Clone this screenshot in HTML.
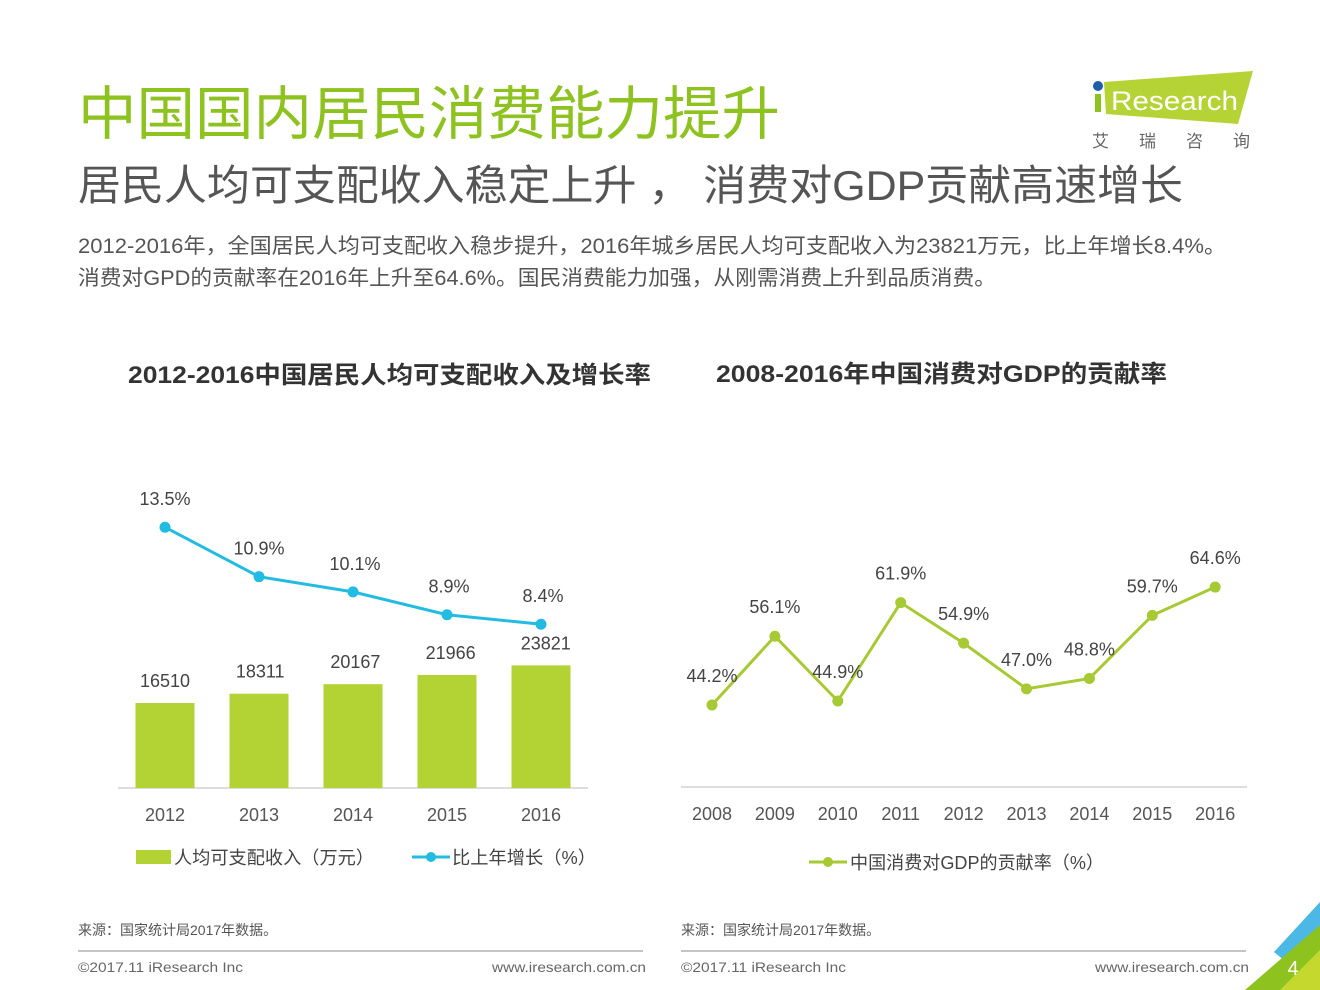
<!DOCTYPE html>
<html><head><meta charset="utf-8"><style>
body{margin:0;background:#fff;}
svg{display:block;font-family:"Liberation Sans","Noto Sans CJK SC",sans-serif;}
</style></head><body>
<svg id="s" width="1320" height="990" viewBox="0 0 1320 990">
<text x="78" y="134" font-size="58" fill="#8dc21f" textLength="702" lengthAdjust="spacingAndGlyphs">中国国内居民消费能力提升</text>
<text x="78" y="200" font-size="42" fill="#555" textLength="1105" lengthAdjust="spacingAndGlyphs">居民人均可支配收入稳定上升 ， 消费对GDP贡献高速增长</text>
<text x="78" y="253" font-size="21" fill="#555" textLength="1148" lengthAdjust="spacingAndGlyphs">2012-2016年，全国居民人均可支配收入稳步提升，2016年城乡居民人均可支配收入为23821万元，比上年增长8.4%。</text>
<text x="78" y="285" font-size="21" fill="#555" textLength="918" lengthAdjust="spacingAndGlyphs">消费对GPD的贡献率在2016年上升至64.6%。国民消费能力加强，从刚需消费上升到品质消费。</text>
<g>
<polygon points="1104,82 1253,71 1238,124 1106,114" fill="#b5d334"/>
<rect x="1095" y="94" width="6" height="18" fill="#8dc21f"/>
<circle cx="1098" cy="86" r="5" fill="#1f5fa8"/>
<text x="1111" y="110" font-size="27" fill="#fff" textLength="127" lengthAdjust="spacingAndGlyphs">Research</text>
<text x="1092" y="147" font-size="17" fill="#666" letter-spacing="30">艾瑞咨询</text>
</g>
<text x="128" y="383" font-size="24" font-weight="bold" fill="#333" textLength="523" lengthAdjust="spacingAndGlyphs">2012-2016中国居民人均可支配收入及增长率</text>
<text x="716" y="382" font-size="24" font-weight="bold" fill="#333" textLength="451" lengthAdjust="spacingAndGlyphs">2008-2016年中国消费对GDP的贡献率</text>
<line x1="118" y1="788" x2="588" y2="788" stroke="#bbb"/>
<line x1="681" y1="787" x2="1247" y2="787" stroke="#bbb"/>
<g id="left"></g><g id="right"></g>
<g>
<rect x="136" y="850" width="35" height="14" fill="#b3d334"/>
<text x="174" y="864" font-size="18" fill="#444" textLength="200" lengthAdjust="spacingAndGlyphs">人均可支配收入（万元）</text>
<line x1="412" y1="857" x2="450" y2="857" stroke="#22bce3" stroke-width="3"/><circle cx="431" cy="857" r="5" fill="#22bce3"/>
<text x="452" y="864" font-size="18" fill="#444" textLength="144" lengthAdjust="spacingAndGlyphs">比上年增长（%）</text>
</g>
<g>
<line x1="809" y1="862" x2="847" y2="862" stroke="#a7c933" stroke-width="3"/><circle cx="828" cy="862" r="5" fill="#a7c933"/>
<text x="850" y="869" font-size="18" fill="#444" textLength="254" lengthAdjust="spacingAndGlyphs">中国消费对GDP的贡献率（%）</text>
</g>
<text x="78" y="935" font-size="14" fill="#555">来源：国家统计局2017年数据。</text>
<text x="681" y="935" font-size="14" fill="#555">来源：国家统计局2017年数据。</text>
<line x1="78" y1="951" x2="643" y2="951" stroke="#888"/>
<line x1="681" y1="951" x2="1246" y2="951" stroke="#888"/>
<text x="78" y="972" font-size="14" fill="#666" textLength="165" lengthAdjust="spacingAndGlyphs">©2017.11 iResearch Inc</text>
<text x="492" y="972" font-size="14" fill="#666" textLength="154" lengthAdjust="spacingAndGlyphs">www.iresearch.com.cn</text>
<text x="681" y="972" font-size="14" fill="#666" textLength="165" lengthAdjust="spacingAndGlyphs">©2017.11 iResearch Inc</text>
<text x="1095" y="972" font-size="14" fill="#666" textLength="154" lengthAdjust="spacingAndGlyphs">www.iresearch.com.cn</text>
<g>
<polygon points="1320,902 1274,952 1320,990" fill="#4bb8e6"/>
<polygon points="1320,925 1245,990 1320,990" fill="#8dc21f"/>
<polygon points="1320,950 1280,990 1320,990" fill="#c4d82e"/>
<text x="1293" y="975" font-size="20" fill="#fff" text-anchor="middle">4</text>
</g>
</svg>
<script>
const years1=["2012","2013","2014","2015","2016"];
const income=[16510,18311,20167,21966,23821];
const growth=[13.5,10.9,10.1,8.9,8.4];
const years2=["2008","2009","2010","2011","2012","2013","2014","2015","2016"];
const contrib=[44.2,56.1,44.9,61.9,54.9,47.0,48.8,59.7,64.6];
const NS="http://www.w3.org/2000/svg";
function mk(p,t,a,txt){const e=document.createElementNS(NS,t);for(const k in a)e.setAttribute(k,a[k]);if(txt!==undefined)e.textContent=txt;p.appendChild(e);return e;}
const L=document.getElementById('left'),R=document.getElementById('right');
const x1=i=>165+i*94, yb=v=>788-v*0.005148, yg=v=>784-v*19.02;
income.forEach((v,i)=>{
 const r=mk(L,'rect',{x:x1(i)-29.5,y:yb(v),width:59,height:788-yb(v),fill:'#b3d334'});
 
 
 const t=mk(L,'text',{x:x1(i)+i*1.2,y:yb(v)-16,'font-size':18,fill:'#444','text-anchor':'middle'},String(v));
 
 
 const xt=mk(L,'text',{x:x1(i),y:821,'font-size':18,fill:'#555','text-anchor':'middle'},years1[i]);
 
 
});
const gl=mk(L,'polyline',{points:growth.map((v,i)=>x1(i)+','+yg(v)).join(' '),fill:'none',stroke:'#22bce3','stroke-width':3});


growth.forEach((v,i)=>{
 const c=mk(L,'circle',{cx:x1(i),cy:yg(v),r:5.5,fill:'#22bce3'});
 
 
 const t=mk(L,'text',{x:x1(i)+(i>1?2:0),y:yg(v)-22,'font-size':18,fill:'#444','text-anchor':'middle'},v.toFixed(1)+'%');
 
 
});
const x2=i=>712+i*62.9, yc=v=>960.7-v*5.784;
years2.forEach((y,i)=>{
 const xt=mk(R,'text',{x:x2(i),y:820,'font-size':18,fill:'#555','text-anchor':'middle'},y);
 
 
});
const cl=mk(R,'polyline',{points:contrib.map((v,i)=>x2(i)+','+yc(v)).join(' '),fill:'none',stroke:'#a7c933','stroke-width':3});


contrib.forEach((v,i)=>{
 const c=mk(R,'circle',{cx:x2(i),cy:yc(v),r:5.5,fill:'#a7c933'});
 
 
 const t=mk(R,'text',{x:x2(i),y:yc(v)-23,'font-size':18,fill:'#444','text-anchor':'middle'},v.toFixed(1)+'%');
 
 
});
</script>
</body></html>
